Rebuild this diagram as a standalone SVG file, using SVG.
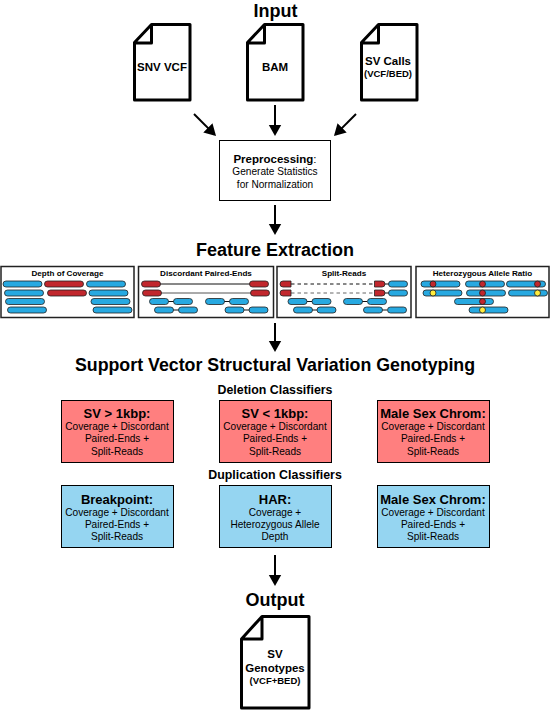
<svg xmlns="http://www.w3.org/2000/svg" width="550" height="710" viewBox="0 0 550 710">
<defs>
<marker id="ah" markerUnits="userSpaceOnUse" markerWidth="14" markerHeight="14" refX="9.500" refY="6.500" orient="auto"><path d="M0,0L11.500,6.500L0,13Z" fill="#000"/></marker>
<path id="doc" d="M18.500,1.500H57V77H1.500V19.500ZM18.500,1.500V20H1.500" fill="#fff" stroke="#000" stroke-width="3" stroke-linejoin="round"/>
</defs>
<style>
text{font-family:"Liberation Sans",Arial,sans-serif;text-anchor:middle;fill:#000}
.h{font-size:18px;font-weight:bold}
.s{font-size:12.400px;font-weight:bold}
.t{font-size:13px;font-weight:bold}
.f{font-size:11.500px;font-weight:bold}
.p{font-size:8.100px;font-weight:bold}
.n{font-size:10.100px}
.panel{fill:#fff;stroke:#222;stroke-width:1.500}
.b{fill:#27a9e1;stroke:#222;stroke-width:.8}
.r{fill:#c1272d;stroke:#222;stroke-width:.8}
.y{fill:#ffec3d;stroke:#222;stroke-width:.8}
.l{stroke:#111;stroke-width:1;fill:none}
.dash{stroke-dasharray:3.500 3}
.box{stroke:#000;stroke-width:1}
.red{fill:#ff7f7f}.blue{fill:#95d5f1}
.c{stroke:#000;stroke-width:2;fill:none;marker-end:url(#ah)}
</style>
<g id="titles">
<text class="h" x="275.500" y="16.500">Input</text>
<text class="h" x="275" y="256">Feature Extraction</text>
<text class="h" x="275" y="371" style="font-size:17.800px">Support Vector Structural Variation Genotyping</text>
<text class="s" x="275" y="394">Deletion Classifiers</text>
<text class="s" x="275" y="479">Duplication Classifiers</text>
<text class="h" x="275" y="606">Output</text>
</g>
<g id="connectors">
<path class="c" d="M194,114L214.600,134.600"/>
<path class="c" d="M275,105V134"/>
<path class="c" d="M356,114L335.400,134.600"/>
<path class="c" d="M275,205V233"/>
<path class="c" d="M275,323V350"/>
<path class="c" d="M275,555V584"/>
</g>
<g id="snv"><use href="#doc" x="133" y="23"/><text class="f" x="162" y="71">SNV VCF</text></g>
<g id="bam"><use href="#doc" x="246" y="23"/><text class="f" x="275" y="71">BAM</text></g>
<g id="svcalls"><use href="#doc" x="360" y="23"/><text class="f" x="388" y="65">SV Calls</text><text x="388" y="77" style="font-size:9.500px;font-weight:bold">(VCF/BED)</text></g>
<g id="preprocessing"><rect x="219.500" y="140.500" width="111" height="60" fill="#fff" stroke="#000"/>
<text x="275" y="163" style="font-size:11.500px"><tspan font-weight="bold">Preprocessing</tspan>:</text>
<text class="n" x="275" y="175">Generate Statistics</text><text class="n" x="275" y="188">for Normalization</text></g>
<g id="depth"><rect class="panel" x="1" y="266.500" width="133" height="51"/><text class="p" x="67.500" y="276">Depth of Coverage</text>
<rect class="b" x="3" y="281" width="39" height="6" rx="3"/><rect class="r" x="44.500" y="281" width="39" height="6" rx="3"/><rect class="b" x="86.500" y="281" width="39" height="6" rx="3"/>
<rect class="b" x="4.500" y="290" width="39" height="6" rx="3"/><rect class="r" x="47.500" y="290" width="39" height="6" rx="3"/><rect class="b" x="89" y="290" width="39" height="6" rx="3"/>
<rect class="b" x="5.500" y="298.500" width="39" height="6" rx="3"/><rect class="b" x="91" y="298.500" width="39" height="6" rx="3"/>
<rect class="b" x="7.500" y="307" width="39" height="6" rx="3"/><rect class="b" x="93" y="307" width="39" height="6" rx="3"/></g>
<g id="discordant"><rect class="panel" x="138.500" y="266.500" width="135" height="51"/><text class="p" x="206" y="276">Discordant Paired-Ends</text>
<path class="l" d="M160,284H251"/><path class="l" d="M160,293H251" style="stroke:#555"/>
<path class="l" d="M168,301.500H174M224,301.500H230M173,310H179M243,310H250"/>
<rect class="r" x="141.500" y="281" width="19" height="6" rx="3"/><rect class="r" x="249.500" y="281" width="19" height="6" rx="3"/>
<rect class="r" x="142.500" y="290" width="19" height="6" rx="3"/><rect class="r" x="250.500" y="290" width="19" height="6" rx="3"/>
<rect class="b" x="149.500" y="298.500" width="19" height="6" rx="3"/><rect class="b" x="173.500" y="298.500" width="19" height="6" rx="3"/><rect class="b" x="205.500" y="298.500" width="19" height="6" rx="3"/><rect class="b" x="229.500" y="298.500" width="19" height="6" rx="3"/>
<rect class="b" x="154.500" y="307" width="19" height="6" rx="3"/><rect class="b" x="178.500" y="307" width="19" height="6" rx="3"/><rect class="b" x="225" y="307" width="19" height="6" rx="3"/><rect class="b" x="249" y="307" width="19" height="6" rx="3"/></g>
<g id="split"><rect class="panel" x="277" y="266.500" width="134" height="51"/><text class="p" x="344" y="276">Split-Reads</text>
<path class="l dash" d="M291,284H374"/><path class="l dash" d="M291,293H374" style="stroke:#666"/>
<path class="l" d="M384,284H389M384,293H389M306,301.500H312M361,301.500H367M311,310H317M381,310H387"/>
<path class="r" d="M283,281H291V287H283A3,3 0 0 1 283,281Z"/><path class="r" d="M283,290H291V296H283A3,3 0 0 1 283,290Z"/>
<path class="r" d="M374.500,281H382A3,3 0 0 1 382,287H374.500Z"/><path class="r" d="M374.500,290H382A3,3 0 0 1 382,296H374.500Z"/>
<rect class="b" x="388.500" y="281" width="19" height="6" rx="3"/><rect class="b" x="388.500" y="290" width="19" height="6" rx="3"/>
<rect class="b" x="288" y="298.500" width="19" height="6" rx="3"/><rect class="b" x="312" y="298.500" width="19" height="6" rx="3"/><rect class="b" x="343.500" y="298.500" width="19" height="6" rx="3"/><rect class="b" x="367.500" y="298.500" width="19" height="6" rx="3"/>
<rect class="b" x="293.500" y="307" width="19" height="6" rx="3"/><rect class="b" x="317" y="307" width="19" height="6" rx="3"/><rect class="b" x="363.500" y="307" width="19" height="6" rx="3"/><rect class="b" x="387.500" y="307" width="19" height="6" rx="3"/></g>
<g id="har"><rect class="panel" x="416" y="266.500" width="133" height="51"/><text class="p" x="482.500" y="276">Heterozygous Allele Ratio</text>
<rect class="b" x="421" y="281" width="39" height="6" rx="3"/><rect class="b" x="465.500" y="281" width="39" height="6" rx="3"/><rect class="b" x="506.500" y="281" width="39" height="6" rx="3"/>
<rect class="b" x="423" y="290" width="39" height="6" rx="3"/><rect class="b" x="466.500" y="290" width="39" height="6" rx="3"/><rect class="b" x="508.500" y="290" width="39" height="6" rx="3"/>
<rect class="b" x="454.500" y="298.500" width="39" height="6" rx="3"/><rect class="b" x="469" y="307" width="39" height="6" rx="3"/>
<circle class="r" cx="433" cy="284" r="3"/><circle class="r" cx="482.500" cy="284" r="3"/><circle class="r" cx="537.500" cy="284" r="3"/>
<circle class="y" cx="433" cy="293" r="3"/><circle class="r" cx="482.500" cy="293" r="3"/><circle class="y" cx="537.500" cy="293" r="3"/>
<circle class="r" cx="482.500" cy="301.500" r="3"/><circle class="y" cx="482.500" cy="310" r="3"/></g>
<g id="del1"><rect class="box red" x="61.500" y="400.500" width="112" height="62"/><text class="t" x="117" y="418">SV &gt; 1kbp:</text><text class="n" x="117" y="430">Coverage + Discordant</text><text class="n" x="117" y="442">Paired-Ends +</text><text class="n" x="117" y="455">Split-Reads</text></g>
<g id="del2"><rect class="box red" x="219.500" y="400.500" width="112" height="62"/><text class="t" x="275" y="418">SV &lt; 1kbp:</text><text class="n" x="275" y="430">Coverage + Discordant</text><text class="n" x="275" y="442">Paired-Ends +</text><text class="n" x="275" y="455">Split-Reads</text></g>
<g id="del3"><rect class="box red" x="377.500" y="400.500" width="112" height="62"/><text class="t" x="433" y="418">Male Sex Chrom:</text><text class="n" x="433" y="430">Coverage + Discordant</text><text class="n" x="433" y="442">Paired-Ends +</text><text class="n" x="433" y="455">Split-Reads</text></g>
<g id="dup1"><rect class="box blue" x="61.500" y="485.500" width="112" height="62"/><text class="t" x="117" y="504">Breakpoint:</text><text class="n" x="117" y="516">Coverage + Discordant</text><text class="n" x="117" y="528">Paired-Ends +</text><text class="n" x="117" y="540">Split-Reads</text></g>
<g id="dup2"><rect class="box blue" x="219.500" y="485.500" width="112" height="62"/><text class="t" x="275" y="504">HAR:</text><text class="n" x="275" y="516">Coverage +</text><text class="n" x="275" y="528">Heterozygous Allele</text><text class="n" x="275" y="540">Depth</text></g>
<g id="dup3"><rect class="box blue" x="377.500" y="485.500" width="112" height="62"/><text class="t" x="433" y="504">Male Sex Chrom:</text><text class="n" x="433" y="516">Coverage + Discordant</text><text class="n" x="433" y="528">Paired-Ends +</text><text class="n" x="433" y="540">Split-Reads</text></g>
<g id="output"><path d="M262,616.500H309V708H241.500V639ZM262,616.500V639H241.500" fill="#fff" stroke="#000" stroke-width="3" stroke-linejoin="round"/>
<text class="f" x="275" y="658">SV</text><text class="f" x="275" y="672">Genotypes</text><text x="275" y="684" style="font-size:9.500px;font-weight:bold">(VCF+BED)</text></g>
</svg>
